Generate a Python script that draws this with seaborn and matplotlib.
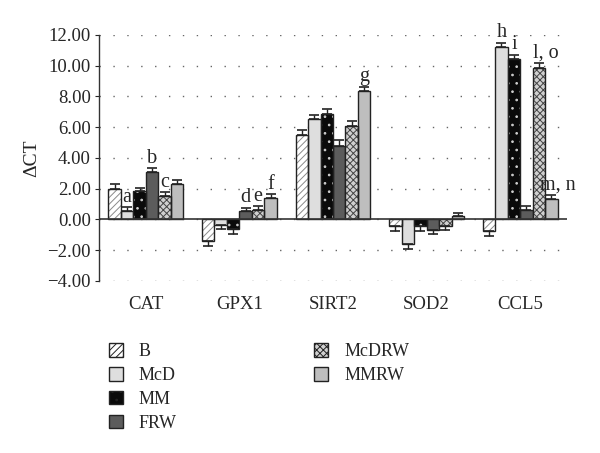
import numpy as np
import pandas as pd
import matplotlib
matplotlib.use("Agg")
import matplotlib.pyplot as plt
from matplotlib.patches import Rectangle, Patch
from matplotlib.ticker import FuncFormatter
import seaborn as sns

# data
genes = ['CAT', 'GPX1', 'SIRT2', 'SOD2', 'CCL5']
groups = ['B', 'McD', 'MM', 'FRW', 'McDRW', 'MMRW']

B = [2.0, -1.4, 5.5, -0.45, -0.75]
McD = [0.55, -0.35, 6.55, -1.6, 11.2]
MM = [1.87, -0.65, 6.85, -0.45, 10.45]
FRW = [3.07, 0.55, 4.78, -0.68, 0.6]
McDRW = [1.5, 0.62, 6.08, -0.4, 9.85]
MMRW = [2.33, 1.36, 8.36, 0.2, 1.35]

B_err = [0.3, 0.3, 0.3, 0.28, 0.3]
McD_err = [0.25, 0.3, 0.25, 0.3, 0.3]
MM_err = [0.2, 0.3, 0.3, 0.28, 0.25]
FRW_err = [0.26, 0.22, 0.35, 0.25, 0.27]
McDRW_err = [0.25, 0.25, 0.3, 0.32, 0.35]
MMRW_err = [0.2, 0.26, 0.26, 0.2, 0.25]

# significance letters: (gene, group, text)
letters = [('CAT', 'McD', 'a'), ('CAT', 'FRW', 'b'), ('CAT', 'McDRW', 'c'),
           ('GPX1', 'FRW', 'd'), ('GPX1', 'McDRW', 'e'), ('GPX1', 'MMRW', 'f'),
           ('SIRT2', 'MMRW', 'g'),
           ('CCL5', 'McD', 'h'), ('CCL5', 'MM', 'i'),
           ('CCL5', 'McDRW', 'l, o'), ('CCL5', 'MMRW', 'm, n')]

values = [B, McD, MM, FRW, McDRW, MMRW]
errors = [B_err, McD_err, MM_err, FRW_err, McDRW_err, MMRW_err]

rows = []
for g, vals, errs in zip(groups, values, errors):
    for gene, v, e in zip(genes, vals, errs):
        rows.append({'gene': gene, 'group': g, 'dct': v, 'err': e})
df = pd.DataFrame(rows)

sns.set_style('white')
plt.rcParams['font.family'] = ['Liberation Serif', 'DejaVu Serif']
plt.rcParams['hatch.linewidth'] = 0.7

fills = {'B': 'white', 'McD': '#dedede', 'MM': '#0a0a0a', 'FRW': '#5c5c5c',
         'McDRW': '#d0d0d0', 'MMRW': '#bebebe'}
hatches = {'B': '/////', 'MM': '..', 'McDRW': 'xxxxx'}
hatch_cols = {'B': '#8a8a8a', 'MM': '#cfcfcf', 'McDRW': '#444444'}

fig = plt.figure(figsize=(6, 4.53), dpi=100)
ax = fig.add_axes([0.165, 0.38, 0.78, 0.543])

sns.barplot(data=df, x='gene', y='dct', hue='group', order=genes, hue_order=groups,
            palette=fills, errorbar=None, width=0.8, edgecolor='#222222',
            linewidth=1.0, legend=False, ax=ax)

edge = '#222222'
for g, cont in zip(groups, ax.containers):
    if g not in hatches:
        continue
    for bar in cont:
        bar.set_hatch(hatches[g])
        bar.set_edgecolor(hatch_cols[g])
        bar.set_linewidth(0)
        # outline on top of the hatched bar
        ax.add_patch(Rectangle(bar.get_xy(), bar.get_width(), bar.get_height(),
                               facecolor='none', edgecolor=edge, linewidth=1.0,
                               zorder=bar.get_zorder() + 0.1))

# one-sided error bars + letters
bar_pos = {}
for g, cont, errs in zip(groups, ax.containers, errors):
    for gene, bar, e in zip(genes, cont, errs):
        xc = bar.get_x() + bar.get_width() / 2
        h = bar.get_height()
        bar_pos[(gene, g)] = (xc, h, e)
        yerr = [[0], [e]] if h >= 0 else [[e], [0]]
        ax.errorbar(xc, h, yerr=yerr, fmt='none', ecolor=edge, elinewidth=1.0,
                    capsize=3.5, capthick=1.2, zorder=3)

for gene, g, txt in letters:
    xc, h, e = bar_pos[(gene, g)]
    dx = 0.07 if ',' in txt else 0
    ax.text(xc + dx, h + e + 0.35, txt, ha='center', va='baseline', fontsize=14.5)

ax.axhline(0, color='#333333', linewidth=1.2, zorder=4)
ax.set_xlim(-0.5, 4.5)
ax.set_ylim(-4, 12)
ax.set_yticks(np.arange(-4, 12.1, 2))
ax.yaxis.set_major_formatter(FuncFormatter(lambda v, p: f'{v:.2f}'.replace('-', '\u2212')))
ax.yaxis.grid(True, linestyle=(0, (1, 9)), color='#666666', linewidth=1.0)
ax.set_axisbelow(True)

for s in ['top', 'right', 'bottom']:
    ax.spines[s].set_visible(False)
ax.spines['left'].set_color('#333333')
ax.spines['left'].set_linewidth(1.0)

ax.tick_params(axis='y', labelsize=13.5, length=3, width=0.8, left=True, pad=3)
ax.tick_params(axis='x', labelsize=13.5, length=0, pad=11)
ax.set_xlabel('')
ax.set_ylabel('\u0394CT', fontsize=14, labelpad=5)

# legend in two blocks
leg_kw = dict(frameon=False, fontsize=13, handlelength=0.75, handleheight=0.75,
              handletextpad=0.9, labelspacing=0.38, borderaxespad=0)
legend_handles = []
for g in groups:
    legend_handles.append(Patch(facecolor=fills[g], edgecolor=edge, linewidth=1.0,
                                hatch=hatches.get(g, '')))

fig.legend(legend_handles[:4], groups[:4], loc='upper left',
           bbox_to_anchor=(0.17, 0.258), **leg_kw)
fig.legend(legend_handles[4:], groups[4:], loc='upper left',
           bbox_to_anchor=(0.512, 0.258), **leg_kw)

fig.savefig('out.png', dpi=100)
